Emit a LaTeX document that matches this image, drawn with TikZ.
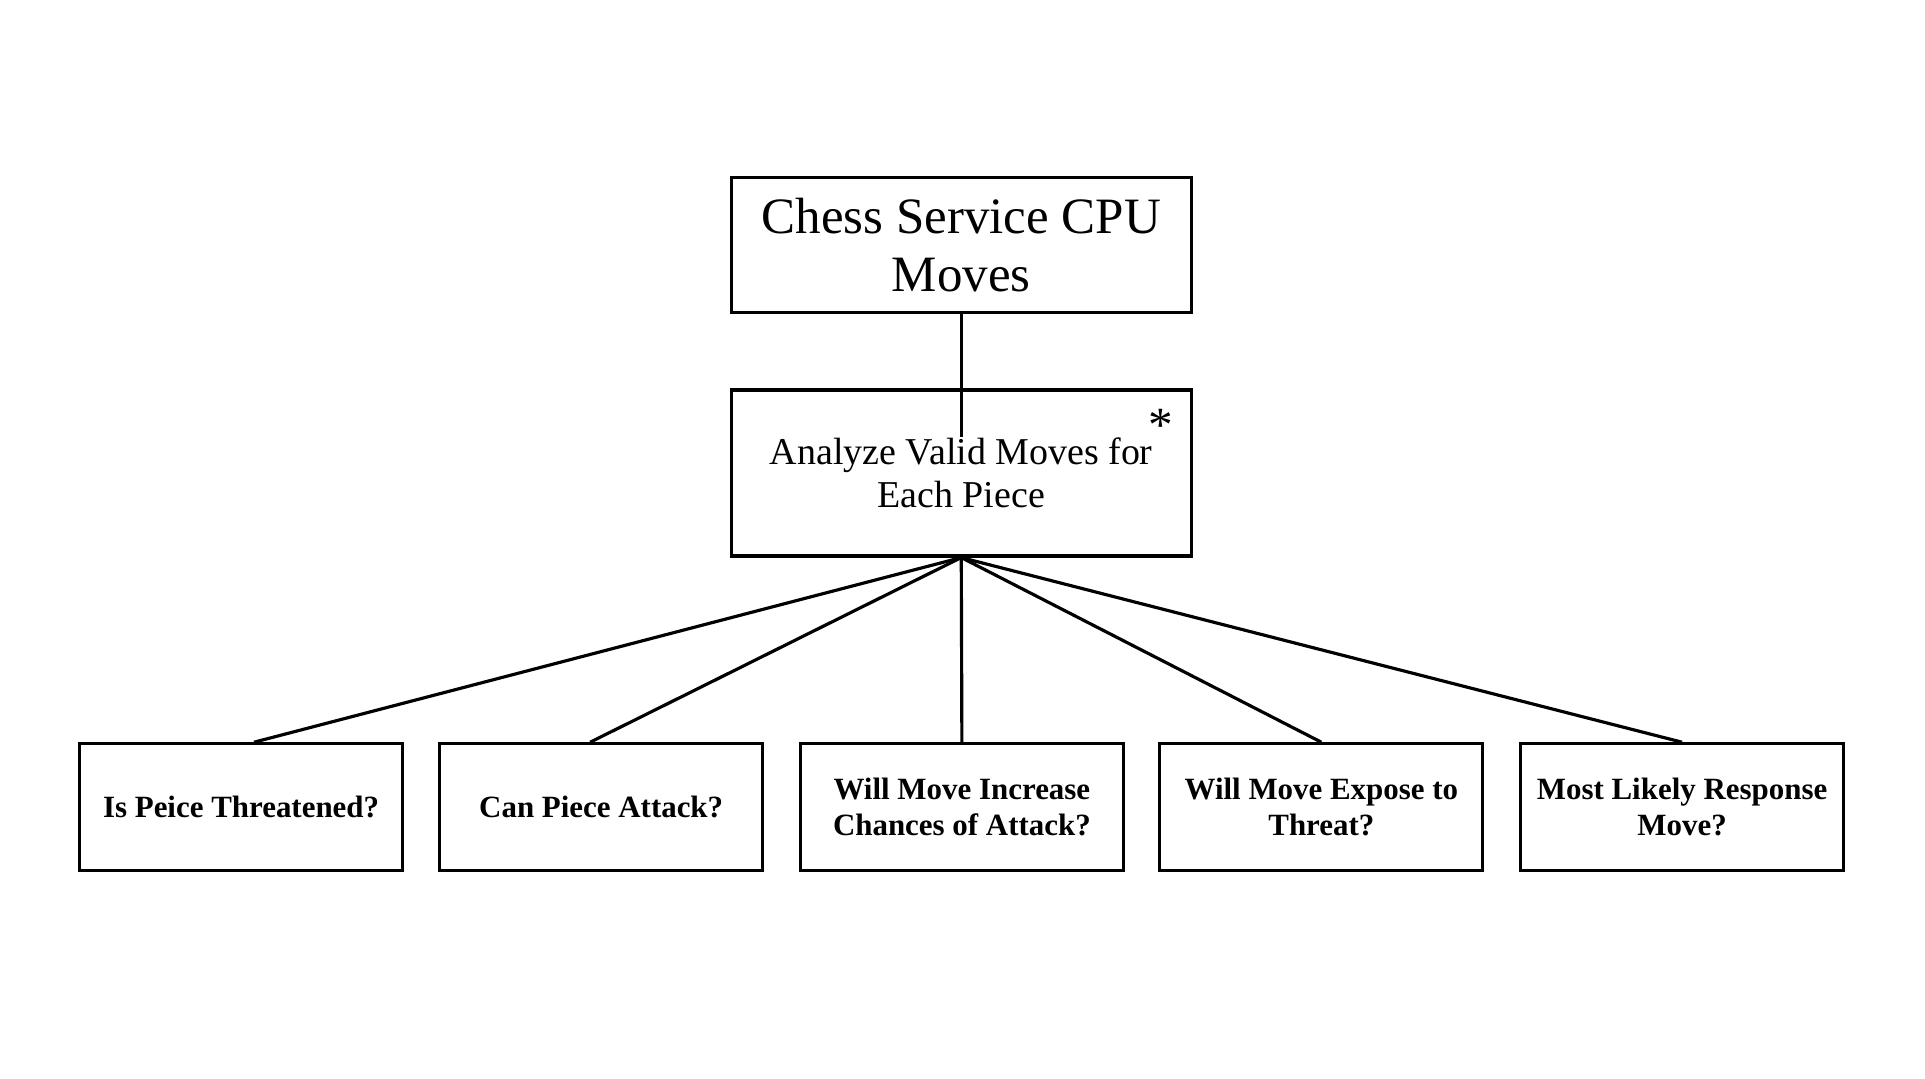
\documentclass[tikz,border=0pt]{standalone}
\usepackage{fontspec}
\setmainfont{Liberation Serif}
\usepackage{tikz}

\begin{document}
\begin{tikzpicture}[x=0.012269cm, y=0.012269cm,
    box/.style={draw, line width=0.9pt, align=center, inner sep=2pt},
    titlebox/.style={box, minimum width=4.60cm, minimum height=1.35cm, font=\fontsize{14.5}{16.5}\selectfont},
    stepbox/.style={box, minimum width=4.60cm, minimum height=1.66cm, font=\fontsize{10.8}{12.3}\selectfont},
    askbox/.style={box, minimum width=3.23cm, minimum height=1.27cm, font=\bfseries\fontsize{8.8}{10.2}\selectfont},
    link/.style={line width=0.9pt}]
    \useasboundingbox (0,0) rectangle (1569,-879);

    % Top boxes
    \node[titlebox] (cpu) at (783.5,-200) {Chess Service CPU\\Moves};
    \node[stepbox] (analyze) at (783.5,-385.5) {Analyze Valid Moves for\\Each Piece};
    \node[font=\fontsize{14}{14}\selectfont, inner sep=0pt] (star) at (946,-347) {*};
    \draw[link] (cpu.south) -- ++(0,-100);

    % Questions
    \foreach \x/\name/\dx/\txt in {196.5/q1/10.5/{Is Peice Threatened?},
                                   490/q2/-9/{Can Piece Attack?},
                                   784/q3/0/{Will Move Increase\\Chances of Attack?},
                                   1077/q4/0/{Will Move Expose to\\Threat?},
                                   1371/q5/0/{Most Likely Response\\Move?}} {
        \node[askbox] (\name) at (\x,-658) {\txt};
        \draw[link] (analyze.south) -- ([xshift=\dx*0.012269cm]\name.north);
    }
\end{tikzpicture}
\end{document}
